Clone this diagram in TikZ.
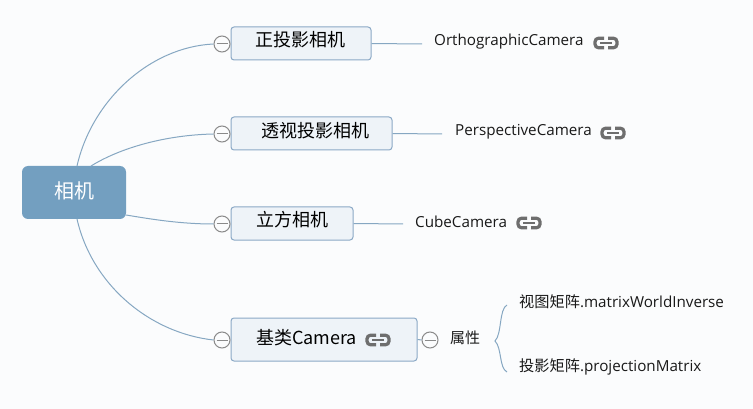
\documentclass[tikz,border=0pt]{standalone}
\usepackage{fontspec}
\setmainfont{Open Sans}
\newfontfamily\cjk{Noto Sans CJK SC}
\definecolor{bgc}{HTML}{FBFCFD}
\definecolor{rootc}{HTML}{739FC0}
\definecolor{boxf}{HTML}{EEF3F8}
\definecolor{boxd}{HTML}{8BA9C6}
\definecolor{linec}{HTML}{86A7C2}
\definecolor{knobc}{HTML}{8A8A8A}
\definecolor{iconc}{HTML}{6E6E6E}
\tikzset{
  x=1pt,y=-1pt,
  rootbox/.style={draw=none,fill=rootc,rounded corners=6pt,minimum width=104pt,minimum height=53pt,inner sep=0pt,text=white,font=\fontsize{20}{20}\selectfont\cjk},
  topicbox/.style={draw=boxd,line width=1pt,fill=boxf,rounded corners=3pt,inner sep=0pt},
  topictext/.style={inner sep=0pt,text=black,font=\fontsize{18}{18}\selectfont\cjk},
  leaftext/.style={inner sep=0pt,anchor=west,text=black!90,font=\fontsize{15.2}{15}\selectfont},
  knob/.style={circle,draw=knobc,line width=1pt,fill=bgc,minimum size=16pt,inner sep=0pt,path picture={\draw[knobc,line width=1pt] ([xshift=-5.5pt]path picture bounding box.center) -- ([xshift=5.5pt]path picture bounding box.center);}},
  conn/.style={draw=linec,line width=1pt},
  linkicon/.pic={
    \draw[iconc,line width=3.2pt,rounded corners=3.6pt] (-2,-4.8) -- (-11,-4.8) -- (-11,4.8) -- (-2,4.8);
    \draw[iconc,line width=3.2pt,rounded corners=3.6pt] (2,-4.8) -- (11,-4.8) -- (11,4.8) -- (2,4.8);
    \draw[iconc,line width=2.4pt] (-6,0) -- (6,0);
  }
}
\newcommand{\cn}[1]{{\cjk #1}}
\begin{document}
\begin{tikzpicture}
\useasboundingbox[fill=bgc] (0,0) rectangle (753,409);
% root
\node[rootbox] (root) at (74,192.5) {\raisebox{4pt}{相机}};
% topic boxes
\node[topicbox,minimum width=140pt,minimum height=33pt] (b1) at (301,43.5) {};
\node[topicbox,minimum width=161pt,minimum height=33pt] (b2) at (311.5,133.5) {};
\node[topicbox,minimum width=122pt,minimum height=33pt] (b3) at (292,223.5) {};
\node[topicbox,minimum width=186pt,minimum height=43pt] (b4) at (324,339.5) {};
\node[topictext] (t1) at (300,40) {正投影相机};
\node[topictext] (t2) at (315,130.5) {透视投影相机};
\node[topictext] (t3) at (292,220) {立方相机};
\node[topictext,anchor=west] (t4) at (256,337.5) {基类Camera};
% knobs
\node[knob] (k1) at (222,44) {};
\node[knob] (k2) at (222,134) {};
\node[knob] (k3) at (222,224) {};
\node[knob] (k4) at (222,340) {};
\node[knob] (k5) at (430,340) {};
% curved connectors
\draw[conn] (77,166) .. controls (92,100) and (150,47) .. (k1.west);
\draw[conn] (91,166) .. controls (120,148) and (165,135) .. (k2.west);
\draw[conn] (root.east |- 0,215) .. controls (150,219) and (180,224) .. (k3.west);
\draw[conn] (77,219) .. controls (92,285) and (150,333) .. (k4.west);
\draw[conn] (b4.east) -- (k5.west);
% leaf labels
\coordinate (e1) at (422,44);
\coordinate (e2) at (442,134);
\coordinate (e3) at (403,224);
\draw[conn] (b1.east) -- (e1);
\draw[conn] (b2.east) -- (e2);
\draw[conn] (b3.east) -- (e3);
\node[leaftext] (l1) at (434,42) {OrthographicCamera};
\node[leaftext] (l2) at (455,132) {PerspectiveCamera};
\node[leaftext] (l3) at (415,222) {CubeCamera};
\node[leaftext,font=\fontsize{15}{15}\selectfont\cjk] (l4) at (450,337.5) {属性};
\node[leaftext] (l5) at (519,302) {\cn{视图矩阵}.matrixWorldInverse};
\node[leaftext] (l6) at (519,367) {\cn{投影矩阵}.projectionMatrix};
% brace
\coordinate (bt) at (495,341);
\draw[conn] (507,305) .. controls (499,309) and (502,334) .. (bt) .. controls (502,348) and (499,368) .. (507,372);
% link icons
\pic at (606,43) {linkicon};
\pic at (613,133) {linkicon};
\pic at (529,223) {linkicon};
\pic at (378,340) {linkicon};
\end{tikzpicture}
\end{document}
